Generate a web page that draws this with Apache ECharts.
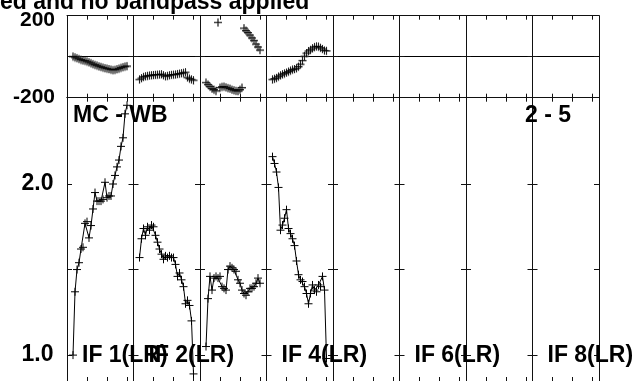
<!DOCTYPE html>
<html><head><meta charset="utf-8">
<script src="https://cdn.jsdelivr.net/npm/echarts@6/dist/echarts.min.js"></script>
<style>html,body{margin:0;padding:0;background:#fff}#c{width:638px;height:381px}</style>
</head><body><div id="c"></div><script>
// ---- data ----
const channels = [1,2,3,4,5,6,7,8,9,10,11,12,13,14,15,16,17,18,19,20,21,22,23,24,25,26,27,28];
const ampIF1 = [1.00,1.37,1.50,1.54,1.62,1.63,1.77,1.78,1.685,1.757,1.854,1.95,1.90,1.90,1.90,1.91,2.01,1.92,1.93,1.93,2.00,2.05,2.10,2.14,2.22,2.27,2.41,2.46];
const ampIF2 = [1.57,1.68,1.74,1.70,1.75,1.73,1.76,1.75,1.70,1.66,1.62,1.59,1.56,1.58,1.57,1.58,1.57,1.57,1.53,1.46,1.48,1.44,1.40,1.30,1.32,1.29,1.20,0.89];
const ampIF3 = [1.05,1.33,1.46,1.38,1.45,1.46,1.45,1.46,1.40,1.39,1.38,1.50,1.52,1.51,1.50,1.49,1.44,1.42,1.38,1.36,1.35,1.37,1.39,1.39,1.40,1.42,1.45,1.42];
const ampIF4 = [2.16,2.12,2.07,1.98,1.73,1.76,1.80,1.85,1.74,1.71,1.68,1.64,1.55,1.47,1.44,1.43,1.40,1.36,1.30,1.36,1.41,1.38,1.37,1.41,1.40,1.46,1.38,0.98];
const phsIF1 = [2,-2,-6,-10,-14,-17,-19,-22,-26,-30,-35,-39,-42,-46,-49,-52,-55,-57,-60,-62,-64,-63,-60,-57,-53,-50,-47,-45];
const phsIF2 = [-110,-104,-98,-95,-93,-91,-90,-89,-88,-87,-86,-85,-90,-95,-93,-90,-88,-87,-86,-84,-82,-80,-78,-75,-100,-106,-110,-114];
const phsIF3 = [-125,-135,-145,-155,-160,-166,168,-150,-146,-145,-149,-152,-155,-160,-163,-166,-167,-160,-150,140,128,118,106,92,80,62,48,33];
const phsIF4 = [-110,-107,-103,-96,-90,-85,-81,-77,-72,-67,-62,-60,-56,-48,-36,-18,3,18,28,34,42,48,51,50,44,38,31,29];
const phsGrayIF1 = [-3,-7,-10,-14,-18,-21,-24,-27,-31,-35,-39,-43,-46,-50,-53,-56,-59,-61,-63,-66,-68,-67,-64,-61,-57,-54,-51,-49];
const phsGrayIF2 = [-114,-108,-101,-98,-96,-94,-93,-92,-90,-90,-89,-88,-93,-98,-96,-93,-91,-90,-89,-87,-85,-83,-82,-79,-104,-110,-114,-118];
const phsGrayIF3 = [-129,-139,-149,-158,-164,-170,165,-154,-150,-149,-152,-156,-158,-163,-166,-169,-170,-164,-154,136,124,114,102,88,76,58,44,30];
const phsGrayIF4 = [-114,-110,-106,-100,-94,-89,-85,-80,-76,-71,-66,-63,-59,-52,-40,-22,-1,14,24,31,38,44,47,46,41,35,28,26];
const ampTicks = [1.0, 1.5, 2.0];
const ampTickLabels = [1.0, 2.0];
const phaseTicks = [-200, 0, 200];
const phaseTickLabels = [-200, 200];
const chanTicks = [8, 18, 28];
const labelColumns = [0, 1, 3, 5, 7];
const labelTexts = ['IF 1(LR)', 'IF 2(LR)', 'IF 4(LR)', 'IF 6(LR)', 'IF 8(LR)'];
const titleText = 'ed and no bandpass applied';
const baselineText = 'MC - WB';
const pairText = '2 - 5';

const ampByIF = [ampIF1, ampIF2, ampIF3, ampIF4, [], [], [], []];
const phsByIF = [phsIF1, phsIF2, phsIF3, phsIF4, [], [], [], []];
const phsGrayByIF = [phsGrayIF1, phsGrayIF2, phsGrayIF3, phsGrayIF4, [], [], [], []];

// ---- layout ----
const FONT = '"Liberation Sans", Arial, sans-serif';
const L0 = 67, W = 66.5, NCOL = 8;
const PH_TOP = 15.7, PH_H = 82;
const AM_TOP = 97.7, AM_H = 284.3;
const AM_MIN = 0.8486, AM_MAX = 2.5044;
const X_MIN = -2, X_MAX = 31.25;
const LINE = {color: '#111', width: 1};
const CROSS = 'path://M0,5H10M5,0V10';

const grids = [], xAxes = [], yAxes = [], series = [];
function addX(g, pos) {
  xAxes.push({gridIndex: g, type: 'value', min: X_MIN, max: X_MAX, position: pos,
    axisLine: {show: true, onZero: false, lineStyle: LINE},
    axisTick: {show: true, inside: true, length: 4, customValues: chanTicks, lineStyle: LINE},
    axisLabel: {show: false}, splitLine: {show: false}});
}
for (let c = 0; c < NCOL; c++) {
  const left = L0 + c * W;
  // phase grid
  const gp = grids.length;
  grids.push({left: left, top: PH_TOP, width: W, height: PH_H, show: false});
  addX(gp, 'bottom'); addX(gp, 'top');
  ['left', 'right'].forEach(pos => {
    const showLab = (c === 0 && pos === 'left');
    yAxes.push({gridIndex: gp, type: 'value', min: -200, max: 200, interval: 200, position: pos,
      axisLine: {show: true, onZero: false, lineStyle: LINE},
      axisTick: {show: true, inside: true, length: 5, customValues: phaseTicks, lineStyle: LINE},
      splitLine: {show: pos === 'left', lineStyle: {color: '#000', width: 1}},
      axisLabel: {show: showLab, customValues: phaseTickLabels, margin: 12,
        formatter: v => v === 200 ? '{t|200}' : '{n|' + v + '}',
        rich: {t: {padding: [9, 0, 0, 0], fontSize: 21, fontWeight: 'bold', fontFamily: FONT, color: '#000'},
               n: {fontSize: 21, fontWeight: 'bold', fontFamily: FONT, color: '#000'}}}
    });
  });
  // amplitude grid
  const ga = grids.length;
  grids.push({left: left, top: AM_TOP, width: W, height: AM_H, show: false});
  addX(ga, 'bottom'); addX(ga, 'top');
  ['left', 'right'].forEach(pos => {
    const showLab = (c === 0 && pos === 'left');
    yAxes.push({gridIndex: ga, type: 'value', min: AM_MIN, max: AM_MAX, position: pos,
      axisLine: {show: true, onZero: false, lineStyle: LINE},
      axisTick: {show: true, inside: true, length: 5, customValues: ampTicks, lineStyle: LINE},
      splitLine: {show: false},
      axisLabel: {show: showLab, customValues: ampTickLabels, margin: 13.5,
        formatter: v => v.toFixed(1), fontSize: 23, fontWeight: 'bold', fontFamily: FONT, color: '#000'}
    });
  });
  const pX = 2 * gp, aX = 2 * ga;
  const pY = 2 * gp, aY = 2 * ga;
  if (phsGrayByIF[c].length) {
    series.push({type: 'scatter', xAxisIndex: pX, yAxisIndex: pY, symbol: CROSS, symbolSize: 8,
      itemStyle: {color: '#8a8a8a', borderColor: '#8a8a8a', borderWidth: 1.3}, z: 3,
      data: channels.map((ch, i) => [ch, phsGrayByIF[c][i]])});
  }
  if (phsByIF[c].length) {
    series.push({type: 'scatter', xAxisIndex: pX, yAxisIndex: pY, symbol: CROSS, symbolSize: 8,
      itemStyle: {color: '#000', borderColor: '#000', borderWidth: 1}, z: 4,
      data: channels.map((ch, i) => [ch, phsByIF[c][i]])});
  }
  if (ampByIF[c].length) {
    series.push({type: 'line', xAxisIndex: aX, yAxisIndex: aY, symbol: CROSS, symbolSize: 8,
      showAllSymbol: true, clip: true,
      lineStyle: {color: '#000', width: 1},
      itemStyle: {color: '#000', borderColor: '#000', borderWidth: 1}, z: 4,
      data: channels.map((ch, i) => [ch, ampByIF[c][i]])});
  }
}

const textStyle = (txt, x, y) => ({type: 'text', x: x, y: y, z: 1,
  style: {text: txt, font: 'bold 23px ' + FONT, fill: '#000',
    textAlign: 'left', textVerticalAlign: 'middle', align: 'left', verticalAlign: 'middle'}});
const graphics = [
  textStyle(titleText, 0, 2.3),
  textStyle(baselineText, 73, 115.5),
  textStyle(pairText, 525, 115.5)
];
labelColumns.forEach((col, i) => graphics.push(textStyle(labelTexts[i], L0 + col * W + 15, 356)));

const chart = echarts.init(document.getElementById('c'), null, {renderer: 'canvas'});
chart.setOption({
  animation: false,
  backgroundColor: '#fff',
  grid: grids, xAxis: xAxes, yAxis: yAxes, series: series,
  graphic: graphics
});
</script></body></html>
